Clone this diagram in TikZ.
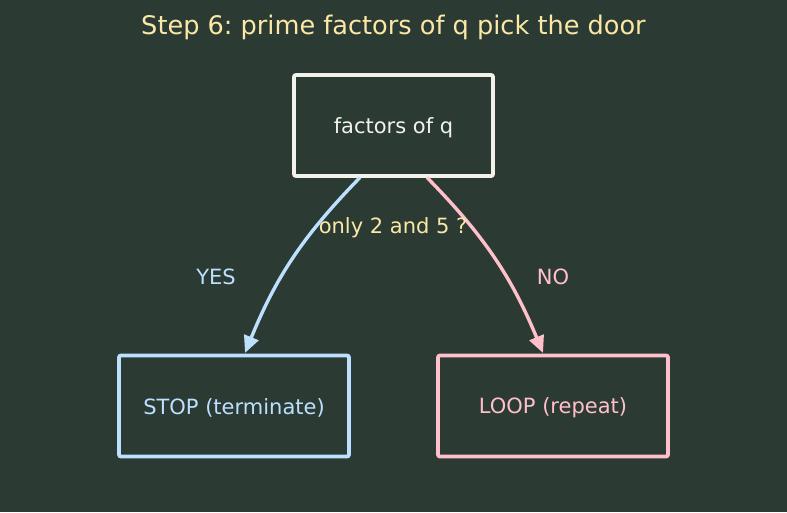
\documentclass[tikz,border=0pt]{standalone}
\usepackage{fontspec}
\setmainfont{DejaVu Sans}
\usetikzlibrary{arrows.meta}
\definecolor{bg}{HTML}{2B3B34}
\definecolor{ttl}{HTML}{FBE8A6}
\definecolor{wht}{HTML}{F2F2EA}
\definecolor{blu}{HTML}{BDE0FE}
\definecolor{pnk}{HTML}{FFC0CB}
\tikzset{
  box/.style={draw, line width=3.8pt, rounded corners=2pt, minimum width=#1, minimum height=101pt, inner sep=0pt, font=\fontsize{21}{25}\selectfont},
  conn/.style={line width=3.4pt, -{Triangle[length=17pt,width=15pt]}},
  lbl/.style={font=\fontsize{21}{25}\selectfont}
}
\begin{document}
\frenchspacing
\begin{tikzpicture}[x=1pt,y=1pt]
\fill[bg] (0,0) rectangle (787,-512);
\useasboundingbox (0,0) rectangle (787,-512);
\node[text=ttl, font=\fontsize{25.6}{30}\selectfont] (title) at (393.5,-27.5) {Step 6: prime factors of q pick the door};
\node[box=199pt, draw=wht, text=wht] (top) at (393.5,-125.5) {};
\node[box=230pt, draw=blu, text=blu] (stop) at (234,-406) {};
\node[box=230pt, draw=pnk, text=pnk] (loop) at (553,-406) {};
\node[lbl, text=wht] (toplbl) at (393.5,-127.5) {factors of q};
\node[lbl, text=blu] (stoplbl) at (234,-407.5) {STOP (terminate)};
\node[lbl, text=pnk] (looplbl) at (553,-407.5) {LOOP (repeat)};
\coordinate (ys) at (360,-177.5);
\coordinate (ye) at (245,-353);
\coordinate (ns) at (427,-177.5);
\coordinate (ne) at (543,-353);
\draw[conn, blu] (ys) to[bend right=11] (ye);
\draw[conn, pnk] (ns) to[bend left=11] (ne);
\node[lbl, text=ttl] (q) at (393,-228) {only 2 and 5 ?};
\node[lbl, text=blu] (yes) at (216,-277) {YES};
\node[lbl, text=pnk] (no) at (553,-277) {NO};
\end{tikzpicture}
\end{document}
